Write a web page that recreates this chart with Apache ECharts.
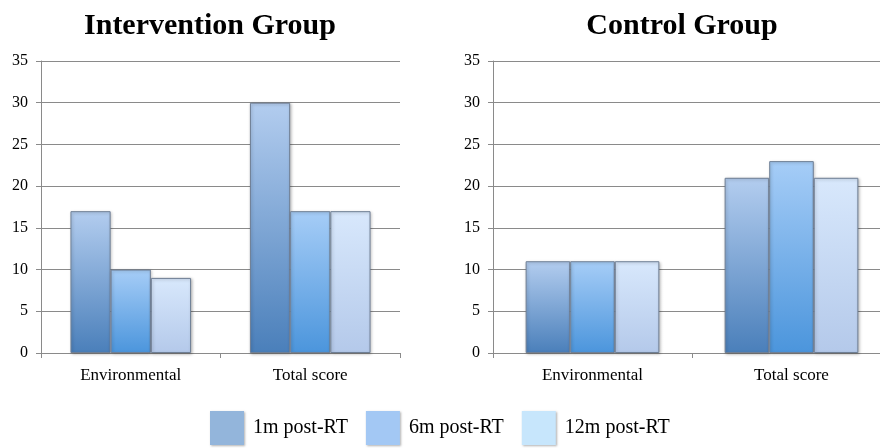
<!DOCTYPE html>
<html>
<head>
<meta charset="utf-8">
<script src="https://cdn.jsdelivr.net/npm/echarts@6/dist/echarts.min.js"></script>
<style>
  html, body { margin: 0; padding: 0; background: #fff; overflow: hidden; }
  #chart { width: 900px; height: 448px; }
</style>
</head>
<body>
<div id="chart"></div>
<script>
// Categories and scores for both study groups
const categories = ['Environmental', 'Total score'];
const seriesNames = ['1m post-RT', '6m post-RT', '12m post-RT'];
const interventionValues = [
  [17, 30],   // 1m post-RT
  [10, 17],   // 6m post-RT
  [9, 17]     // 12m post-RT
];
const controlValues = [
  [11, 21],
  [11, 23],
  [11, 21]
];
const yTicks = { min: 0, max: 35, interval: 5 };

const serif = '"Liberation Serif", "Times New Roman", serif';

// Vertical shading for each series: light top, darker bottom
const fills = [
  ['#b3cdef', '#4a7fba'],
  ['#a6cdf7', '#4b95dc'],
  ['#d8e8fc', '#b4c9ea']
];
const legendColors = ['#93b5db', '#a3c8f4', '#c7e6fc'];

function grad(i) {
  return new echarts.graphic.LinearGradient(0, 0, 0, 1, [
    { offset: 0, color: fills[i][0] },
    { offset: 1, color: fills[i][1] }
  ]);
}

function yAxis(gridIndex) {
  return {
    type: 'value', gridIndex,
    min: yTicks.min, max: yTicks.max, interval: yTicks.interval,
    axisLine: { show: true, lineStyle: { color: '#8a8a8a', width: 1 } },
    axisTick: { show: true, length: 5, lineStyle: { color: '#8a8a8a' } },
    axisLabel: { color: '#000', fontFamily: serif, fontSize: 16, margin: 13 },
    splitLine: { show: true, lineStyle: { color: '#8a8a8a', width: 1 } }
  };
}
function xAxis(gridIndex) {
  return {
    type: 'category', gridIndex, data: categories,
    axisLine: { show: true, lineStyle: { color: '#8a8a8a', width: 1 } },
    axisTick: { show: true, length: 5, lineStyle: { color: '#8a8a8a' } },
    axisLabel: { color: '#000', fontFamily: serif, fontSize: 17, margin: 14 },
    splitLine: { show: false }
  };
}

function barSeries(values, axisIndex) {
  return values.map((vals, i) => ({
    name: seriesNames[i],
    type: 'bar',
    xAxisIndex: axisIndex, yAxisIndex: axisIndex,
    data: vals,
    barWidth: '22.4%',
    barGap: '0%',
    itemStyle: {
      color: grad(i),
      borderColor: '#6f7f95',
      borderWidth: 1,
      shadowColor: 'rgba(0,0,0,0.25)',
      shadowBlur: 3,
      shadowOffsetX: 1,
      shadowOffsetY: 1
    }
  }));
}

const chart = echarts.init(document.getElementById('chart'), null, { renderer: 'canvas' });
chart.setOption({
  animation: false,
  backgroundColor: '#fff',
  title: [
    { text: 'Intervention Group', left: 205, top: 6, textAlign: 'center',
      textStyle: { fontFamily: serif, fontSize: 30, fontWeight: 'bold', color: '#000' } },
    { text: 'Control Group', left: 677, top: 6, textAlign: 'center',
      textStyle: { fontFamily: serif, fontSize: 30, fontWeight: 'bold', color: '#000' } }
  ],
  legend: {
    left: 205, top: 406,
    itemWidth: 34, itemHeight: 34, itemGap: 18,
    icon: 'rect',
    textStyle: { fontFamily: serif, fontSize: 20, color: '#000', padding: [0, 0, 0, 4] },
    data: seriesNames.map((n, i) => ({
      name: n,
      itemStyle: { color: legendColors[i], borderWidth: 0,
        shadowColor: 'rgba(0,0,0,0.3)', shadowBlur: 2, shadowOffsetX: 1, shadowOffsetY: 1 }
    }))
  },
  grid: [
    { left: 41, top: 61, width: 359, height: 292 },
    { left: 493, top: 61, width: 398, height: 292 }
  ],
  xAxis: [xAxis(0), xAxis(1)],
  yAxis: [yAxis(0), yAxis(1)],
  series: [...barSeries(interventionValues, 0), ...barSeries(controlValues, 1)]
});
</script>
</body>
</html>
